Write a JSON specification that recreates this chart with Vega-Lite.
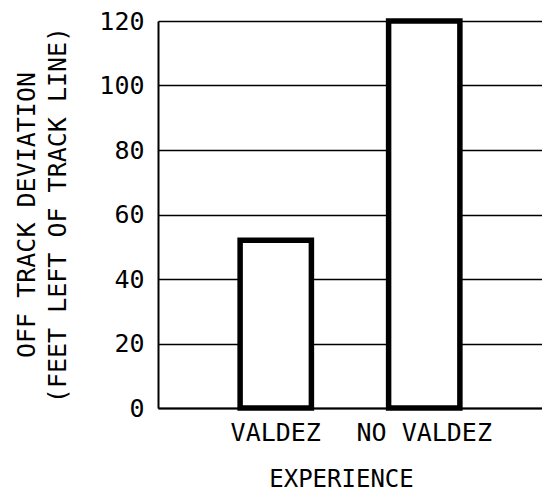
{
  "$schema": "https://vega.github.io/schema/vega-lite/v6.json",
  "width": 384,
  "height": 387,
  "autosize": "none",
  "padding": {"left": 158, "top": 21, "right": 0, "bottom": 83},
  "background": "white",
  "data": {"values": [
    {"experience": "VALDEZ", "deviation": 52},
    {"experience": "NO VALDEZ", "deviation": 120}
  ]},
  "mark": {"type": "bar", "fill": "white", "stroke": "black", "strokeWidth": 5.5, "clip": false},
  "encoding": {
    "x": {
      "field": "experience", "type": "nominal", "sort": null,
      "scale": {"paddingInner": 0.52, "paddingOuter": 0.553},
      "axis": {
        "title": "EXPERIENCE", "titleX": 183, "titleFont": "DejaVu Sans Mono", "titleFontSize": 24, "titleFontWeight": "normal", "titleColor": "black", "titlePadding": 22,
        "labelAngle": 0, "labelFont": "DejaVu Sans Mono", "labelFontSize": 25, "labelColor": "black", "labelPadding": 12,
        "ticks": false, "domainColor": "black", "domainWidth": 2, "grid": false
      }
    },
    "y": {
      "field": "deviation", "type": "quantitative",
      "scale": {"domain": [0, 120], "nice": false},
      "axis": {
        "title": ["OFF TRACK DEVIATION", "(FEET LEFT OF TRACK LINE)"],
        "titleFont": "DejaVu Sans Mono", "titleFontSize": 25, "titleFontWeight": "normal", "titleColor": "black", "titleLineHeight": 31, "titlePadding": 28,
        "values": [0, 20, 40, 60, 80, 100, 120],
        "labelFont": "DejaVu Sans Mono", "labelFontSize": 25, "labelColor": "black", "labelPadding": 14,
        "ticks": false, "domainColor": "black", "domainWidth": 2,
        "grid": true, "gridColor": "black", "gridWidth": 1.5, "gridOpacity": 1
      }
    }
  },
  "config": {"view": {"stroke": null}}
}
